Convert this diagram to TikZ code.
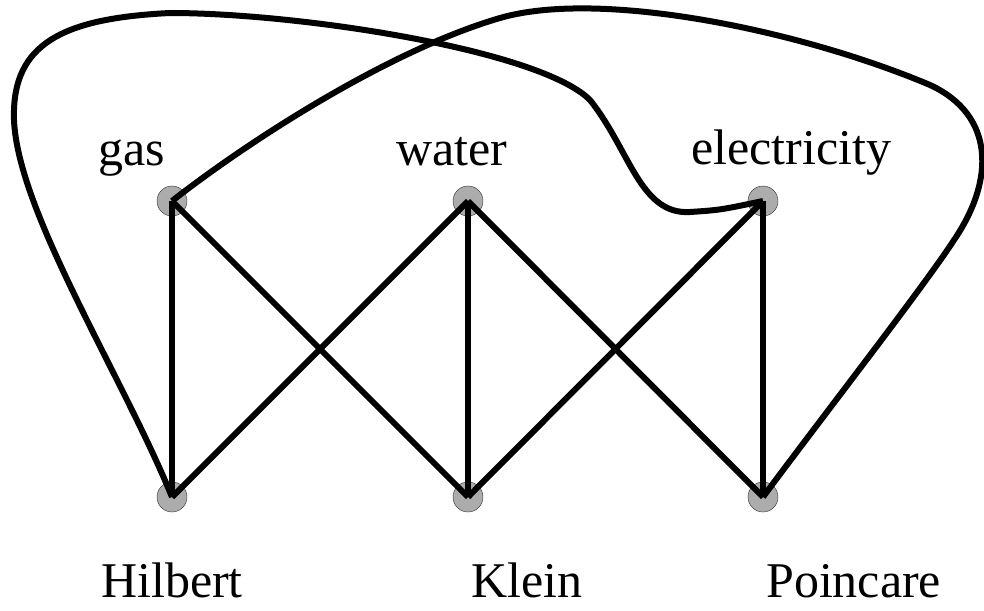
\documentclass[tikz,border=0pt]{standalone}
\usepackage{fontspec}
\setmainfont{Liberation Serif}
\usepackage{tikz}
\usetikzlibrary{arrows}

\begin{document}
\begin{tikzpicture}[x=1pt, y=-1pt]
      \def \top {201}
      \def \bot {497}
      \tikzset{vertex/.style={circle, fill=gray!65, draw=gray!35!black, thin, minimum size=30pt, inner sep=0pt},
               lbl/.style={font=\fontsize{50}{60}\selectfont, inner sep=0pt},
               wire/.style={line width=6pt}}
      \useasboundingbox (0,0) rectangle (984,610);

      % utilities and people
      \foreach \name/\x in {gas/172, water/468, ele/763}
        \node[vertex] (\name) at (\x,\top) {};
      \foreach \name/\x in {hil/172, klein/468, poin/763}
        \node[vertex] (\name) at (\x,\bot) {};

      \node[lbl, anchor=base] (gaslbl) at (132,165) {gas};
      \node[lbl, anchor=base] (waterlbl) at (452,165) {water};
      \node[lbl, anchor=base] (elelbl) at (791,164) {electricity};
      \node[lbl, anchor=base] (hillbl) at (172,597) {Hilbert};
      \node[lbl, anchor=base west] (kleinlbl) at (471,597) {Klein};
      \node[lbl, anchor=base west] (poinlbl) at (766,597) {Poincare};

      % straight connections
      \foreach \a/\b in {gas/hil, gas/klein, water/hil, water/klein, water/poin, ele/klein, ele/poin}
        \draw[wire] (\a.center) -- (\b.center);

      % the two long ones
      \draw[wire] (hil.center) .. controls (120,370) and (10,200) .. (14,110)
        .. controls (16,40) and (70,18) .. (170,13)
        .. controls (300,13) and (540,50) .. (590,100)
        .. controls (630,150) and (640,215) .. (690,212)
        .. controls (720,210) .. (ele.center);
      \draw[wire] (gas.center) .. controls (250,140) and (390,50) .. (500,18)
        .. controls (600,-11) and (800,30) .. (930,85)
        .. controls (995,115) and (995,180) .. (954,240)
        .. controls (925,285) and (820,420) .. (poin.center);
\end{tikzpicture}
\end{document}
